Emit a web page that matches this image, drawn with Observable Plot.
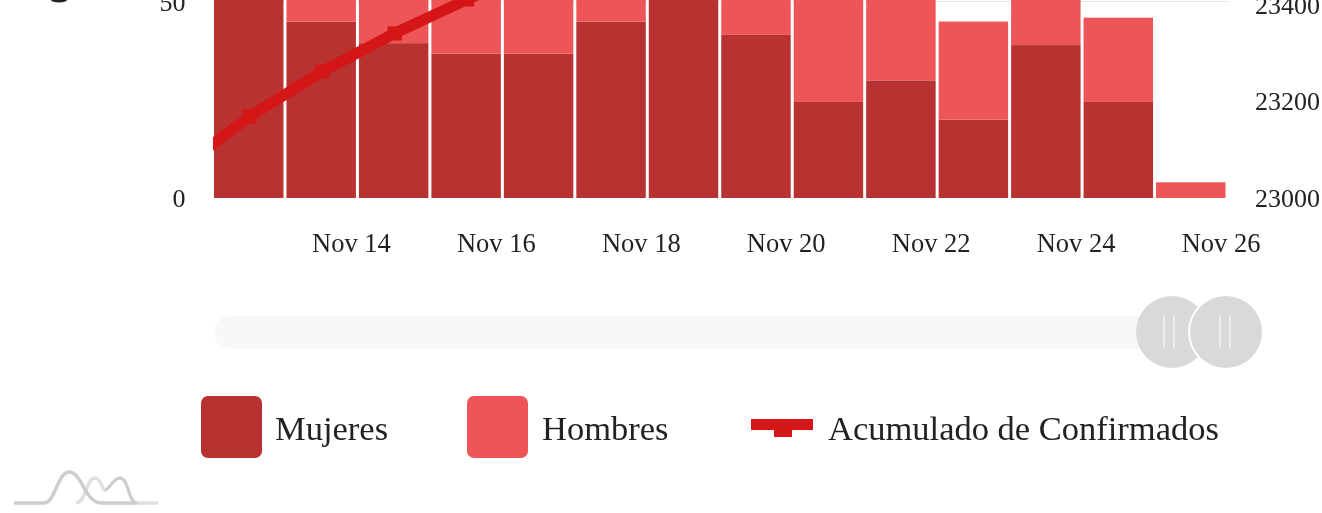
<!DOCTYPE html>
<html>
<head>
<meta charset="utf-8">
<script src="https://cdn.jsdelivr.net/npm/d3@7"></script>
<script src="https://cdn.jsdelivr.net/npm/@observablehq/plot@0.6"></script>
<style>
html,body{margin:0;padding:0;background:#fff;overflow:hidden}
#page{position:relative;width:1322px;height:513px;font-family:"Liberation Serif",serif;color:#222;filter:blur(0.55px)}
#chart{position:absolute;left:0;top:0}
.abs{position:absolute}
.lg{position:absolute;font-size:34.5px;line-height:40px;white-space:nowrap;top:408px}
.grip{position:absolute;top:315px;width:8px;height:33px;border-left:2px solid #ececec;border-right:2px solid #ececec}
</style>
</head>
<body>
<div id="page">
<div id="chart"></div>
<svg class="abs" style="left:50px;top:0" width="18" height="3" viewBox="0 0 18 3"><ellipse cx="9" cy="0" rx="8" ry="2.5" fill="#222"/></svg>
<div class="abs" style="left:214px;top:316px;width:1048px;height:33px;border-radius:16px;background:#f8f8f8"></div>
<div class="abs" style="left:1136px;top:296px;width:72px;height:72px;border-radius:50%;background:#d9d9d9"></div>
<div class="grip" style="left:1163px"></div>
<div class="abs" style="left:1190px;top:296px;width:72px;height:72px;border-radius:50%;background:#d9d9d9;box-shadow:0 0 0 2px #fff"></div>
<div class="grip" style="left:1219px"></div>
<div class="abs" style="left:201px;top:396px;width:61px;height:62px;border-radius:7px;background:#b83232"></div>
<div class="lg" style="left:275px">Mujeres</div>
<div class="abs" style="left:467px;top:396px;width:61px;height:62px;border-radius:7px;background:#ed5558"></div>
<div class="lg" style="left:542px">Hombres</div>
<div class="abs" style="left:751px;top:419px;width:62px;height:11px;background:#d41616"></div>
<div class="abs" style="left:774px;top:419px;width:18px;height:18px;background:#d41616"></div>
<div class="lg" style="left:828px">Acumulado de Confirmados</div>
<svg class="abs" style="left:14px;top:468px" width="146" height="40" viewBox="0 0 146 40">
<path d="M62 35C72 35 72 10 81 10C87 10 88 22 91 22C95 22 99 10 106 10C115 10 114 35 123 35H144" fill="none" stroke="#e0e0e0" stroke-width="3.5"/>
<path d="M0 35H30C41 35 44 4 55 4C68 4 71 35 87 35H123" fill="none" stroke="#cdcdcd" stroke-width="3.5"/>
<path d="M91 22C95 22 99 10 106 10C115 10 114 35 123 35" fill="none" stroke="#cdcdcd" stroke-width="2.5"/>
</svg>
</div>
<script>
const dates = ["2020-11-12","2020-11-13","2020-11-14","2020-11-15","2020-11-16","2020-11-17","2020-11-18","2020-11-19","2020-11-20","2020-11-21","2020-11-22","2020-11-23","2020-11-24","2020-11-25"];
const mujeres = [53,45,39.5,36.8,36.8,45,53,41.6,24.5,30,20,39,24.5,0];
const hombres = [8,9,14,17,17,9,6,12,30,24,25,15,21.5,4];
const lineDates = ["2020-11-11","2020-11-12","2020-11-13","2020-11-14","2020-11-15","2020-11-16"];
const lineValues = [23058,23170,23263,23342,23412,23480];
const lineLabelTicks = [23000,23200,23400];
const xTicks = ["2020-11-14","2020-11-16","2020-11-18","2020-11-20","2020-11-22","2020-11-24","2020-11-26"];

const yTop = 50.5;
const rightTop = 23410;
const toLeft = v => (v - 23000) / (rightTop - 23000) * yTop;
const fromLeft = v => 23000 + v / yTop * (rightTop - 23000);
const dayOf = s => new Date(s + "T00:00:00Z");
const noon = s => d3.utcHour.offset(dayOf(s), 12);

const bars = [
  ...dates.map((d,i) => ({date: dayOf(d), series: "Mujeres", value: mujeres[i]})),
  ...dates.map((d,i) => ({date: dayOf(d), series: "Hombres", value: hombres[i]}))
];
const line = lineDates.map((d,i) => ({date: noon(d), value: toLeft(lineValues[i])}));

const chart = Plot.plot({
  width: 1322, height: 265,
  marginTop: 0, marginBottom: 67, marginLeft: 213, marginRight: 94.5,
  style: {fontFamily: '"Liberation Serif", serif', background: "transparent", color: "#222"},
  x: {type: "utc", domain: [dayOf("2020-11-12"), dayOf("2020-11-26")]},
  y: {domain: [0, yTop]},
  color: {domain: ["Mujeres","Hombres"], range: ["#b83232","#ed5558"]},
  marks: [
    Plot.ruleY([50], {stroke: "#e6e6e6", strokeWidth: 1, dy: -1}),
    Plot.rectY(bars, {x: "date", interval: "day", y: "value", fill: "series", insetLeft: 1, insetRight: 2, clip: true}),
    Plot.line(line, {x: "date", y: "value", stroke: "#d41616", strokeWidth: 11, clip: true}),
    Plot.dot(line, {x: "date", y: "value", fill: "#d41616", symbol: "square", r: 8, clip: true}),
    Plot.axisX({ticks: xTicks.map(dayOf), tickFormat: d3.utcFormat("%b %-d"), tickSize: 0, tickPadding: 35, dx: -7, fontSize: 26.5}),
    Plot.axisY({ticks: [0,50], tickSize: 0, tickPadding: 28, fontSize: 26, label: null}),
    Plot.axisY({anchor: "right", ticks: lineLabelTicks.map(toLeft), tickFormat: v => String(Math.round(fromLeft(v))), tickSize: 0, tickPadding: 27, fontSize: 26, label: null})
  ]
});
document.getElementById("chart").appendChild(chart);
</script>
</body>
</html>
